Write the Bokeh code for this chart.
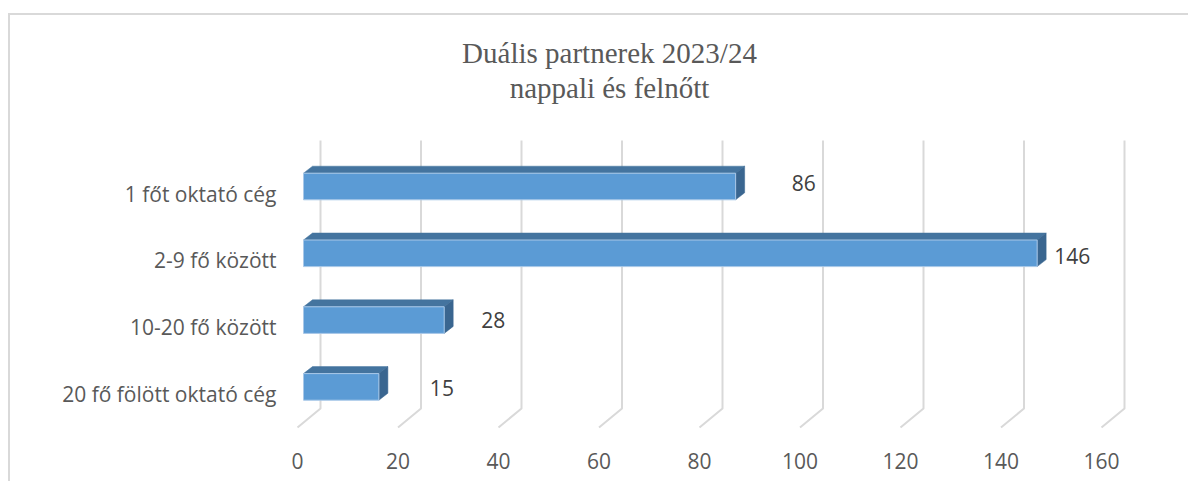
from bokeh.plotting import figure
from bokeh.models import ColumnDataSource, Range1d, FixedTicker, Label
from bokeh.core.properties import value
from bokeh.embed import file_html
from bokeh.resources import INLINE

# ---- data ----
title_lines = ["Duális partnerek 2023/24", "nappali és felnőtt"]
categories = ["1 főt oktató cég", "2-9 fő között", "10-20 fő között", "20 fő fölött oktató cég"]
counts = [86, 146, 28, 15]
x_ticks = [0, 20, 40, 60, 80, 100, 120, 140, 160]

# ---- layout (page pixels) ----
OX, OY = 10, 15          # canvas offset on the page (after CSS margin + border)
W, H = 1180, 468
KX = 5.025               # px per value unit
KY = 66.8                # px per category slot
X0, Y0 = 297, 193        # page position of value 0 / first category


def vx(px):
    return (px - X0) / KX


def vy(py):
    return (py - Y0) / KY


FRAME_L, FRAME_R, FRAME_T, FRAME_B = 285, 1160, OY, 428

p = figure(width=W, height=H, output_backend="svg", toolbar_location=None,
           x_range=Range1d(vx(FRAME_L), vx(FRAME_R)),
           y_range=Range1d(vy(FRAME_B), vy(FRAME_T)),
           min_border_left=FRAME_L - OX, min_border_right=W - (FRAME_R - OX),
           min_border_top=FRAME_T - OY, min_border_bottom=H - (FRAME_B - OY),
           styles={"margin-left": "8px", "margin-top": "13px",
                   "border-left": "2px solid #d9d9d9",
                   "border-top": "2px solid #d9d9d9"})
p.outline_line_color = None
p.background_fill_color = "white"
p.border_fill_color = "white"
p.xgrid.visible = False
p.ygrid.visible = False

# 3D floor / walls gridlines
DEPTH_X = 23 / KX
FLOOR_BACK, FLOOR_FRONT, GRID_TOP = vy(408), vy(427), vy(140)
grid_xs, grid_ys = [], []
for t in x_ticks:
    grid_xs.append([t + DEPTH_X, t + DEPTH_X, t])
    grid_ys.append([GRID_TOP, FLOOR_BACK, FLOOR_FRONT])
p.multi_line(grid_xs, grid_ys, line_color="#d9d9d9", line_width=2)

# bars (front, top, side faces)
B0 = 6 / KX
DDX = 9 / KX
DDY = 7 / KY
FT = -20.3 / KY
FB = 6.3 / KY
idx = list(range(len(categories)))

top_xs, top_ys, side_xs, side_ys = [], [], [], []
for i, v in zip(idx, counts):
    ft, fb = i + FT, i + FB
    r = v + B0
    top_xs.append([B0, r, r + DDX, B0 + DDX])
    top_ys.append([ft, ft, ft - DDY, ft - DDY])
    side_xs.append([r, r + DDX, r + DDX, r])
    side_ys.append([ft, ft - DDY, fb - DDY, fb])

p.patches(top_xs, top_ys, fill_color="#44749f", line_color="#44749f", line_width=0.5)
p.patches(side_xs, side_ys, fill_color="#3a6690", line_color="#3a6690", line_width=0.5)

src = ColumnDataSource(dict(
    y=idx, v=counts,
    left=[B0] * len(counts), right=[c + B0 for c in counts],
    top=[i + FT for i in idx], bottom=[i + FB for i in idx],
    lbl=[str(c) for c in counts],
    dx=[74, 41, 55, 69], dy=[-11, -4, -7, -6],
))
p.quad(left="left", right="right", top="top", bottom="bottom", source=src,
       fill_color="#5b9bd5", line_color="#a9c8e8", line_width=1)

p.text(x="v", y="y", text="lbl", x_offset="dx", y_offset="dy", source=src,
       text_align="center", text_baseline="middle",
       text_font=value("Open Sans"), text_font_size="21px", text_color="#404040")

# axes
xa = p.xaxis[0]
xa.ticker = FixedTicker(ticks=x_ticks)
xa.axis_line_color = None
xa.major_tick_line_color = None
xa.minor_tick_line_color = None
xa.major_label_standoff = 18
xa.major_label_text_font = "Open Sans"
xa.major_label_text_font_size = "21px"
xa.major_label_text_color = "#595959"

ya = p.yaxis[0]
ya.ticker = FixedTicker(ticks=idx)
ya.major_label_overrides = {i: c for i, c in zip(idx, categories)}
ya.axis_line_color = None
ya.major_tick_line_color = None
ya.minor_tick_line_color = None
ya.major_label_standoff = 3
ya.major_label_text_font = "Open Sans"
ya.major_label_text_font_size = "21px"
ya.major_label_text_color = "#595959"

# title
for k, line in enumerate(title_lines):
    p.add_layout(Label(x=vx(609), y=vy(52 + 35 * k), text=line,
                       text_align="center", text_baseline="middle",
                       text_font="Liberation Serif", text_font_size="29px",
                       text_color="#595959"))

open("out.html", "w").write(file_html(p, INLINE))
